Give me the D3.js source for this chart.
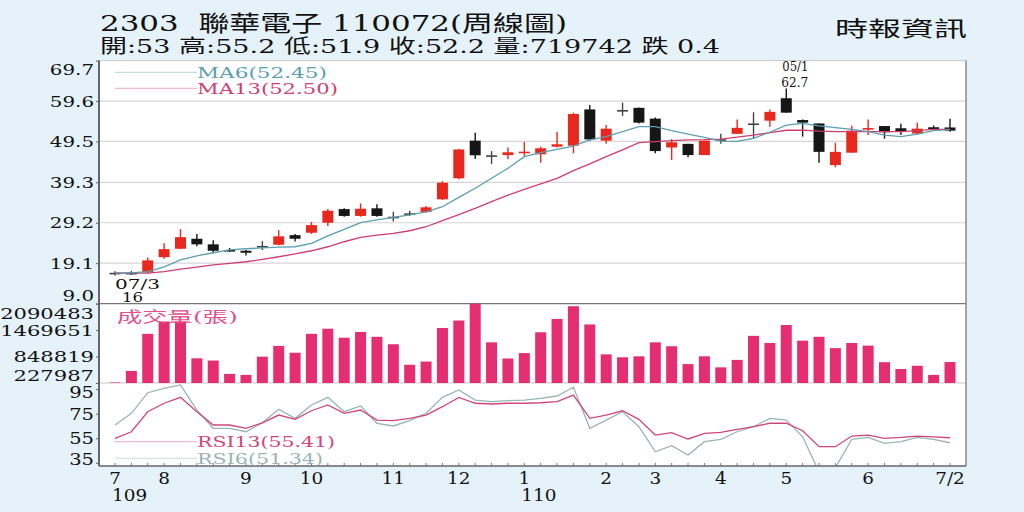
<!DOCTYPE html>
<html><head><meta charset="utf-8">
<script src="https://cdn.jsdelivr.net/npm/d3@7"></script>
<style>
html,body{margin:0;padding:0;background:#e6f2f9;}
svg{display:block;}
</style></head><body>
<svg id="c" width="1024" height="512"></svg>
<script>
// ---------- data ----------
const weeks = ["2020-07-03","2020-07-10","2020-07-17","2020-07-24","2020-07-31","2020-08-07","2020-08-14","2020-08-21","2020-08-28","2020-09-04","2020-09-11","2020-09-18","2020-09-25","2020-10-02","2020-10-09","2020-10-16","2020-10-23","2020-10-30","2020-11-06","2020-11-13","2020-11-20","2020-11-27","2020-12-04","2020-12-11","2020-12-18","2020-12-25","2021-01-01","2021-01-08","2021-01-15","2021-01-22","2021-01-29","2021-02-05","2021-02-19","2021-02-26","2021-03-05","2021-03-12","2021-03-19","2021-03-26","2021-04-02","2021-04-09","2021-04-16","2021-04-23","2021-04-30","2021-05-07","2021-05-14","2021-05-21","2021-05-28","2021-06-04","2021-06-11","2021-06-18","2021-06-25","2021-07-02"];
const opens  = [16.7,16.7,16.8,20.6,22.7,25.2,23.8,22.4,22.2,23.4,23.7,26.1,26.7,29.2,32.6,30.9,32.8,30.7,31.55,31.9,35.05,40.3,49.7,46.05,46.1,46.9,46.3,48.2,48.45,57.5,49.7,57.35,57.9,55.2,48.0,48.9,46.1,50.05,51.4,54.0,54.7,60.3,54.85,54.0,43.6,46.7,52.8,53.35,52.8,51.5,53.05,53];
const highs  = [17.1,17.1,20.5,24.1,27.6,26.4,24.8,22.9,22.4,24.6,27.3,26.4,29.4,32.6,32.8,34.0,33.8,31.95,32.2,33.4,39.6,47.7,51.7,47.1,48.0,49.4,48.2,51.9,56.7,58.6,53.6,59.2,58.0,55.5,50.1,48.9,49.7,51.4,55.0,56.8,57.5,62.7,55.0,54.0,49.2,53.4,55.0,53.35,53.9,54.2,53.5,55.2];
const lows   = [16.0,16.2,16.6,20.2,22.6,23.3,21.6,21.9,21.0,22.4,23.6,24.5,26.4,28.4,30.7,30.7,30.7,29.5,30.9,31.7,34.9,40.05,45.1,43.9,45.05,45.9,44.2,48.0,46.55,49.7,48.9,55.9,54.0,46.55,44.9,45.55,46.1,48.9,51.35,50.3,53.2,56.7,50.7,44.2,43.05,46.7,51.1,50.2,51.1,51.1,52.2,51.9];
const closes = [16.7,16.6,19.8,22.6,25.6,23.8,22.2,22.35,21.7,23.4,25.8,25.2,28.6,32.2,30.9,32.7,30.9,30.7,31.55,33.05,39.2,47.5,46.05,46.05,46.8,46.95,47.8,48.8,56.35,50.0,52.7,57.35,54.2,47.1,49.3,46.1,49.7,50.05,52.9,54.0,56.9,56.7,54.2,46.9,46.9,52.2,52.85,51.8,52.1,52.7,52.6,52.2];
const volumes = [240000,511000,1381000,1671000,1671000,807000,755000,442000,418000,846000,1098000,938000,1381000,1502000,1290000,1426000,1312000,1137000,656000,731000,1519000,1694000,2090483,1182000,803000,930000,1418000,1731000,2029000,1602000,900000,831000,854000,1182000,1090000,671000,854000,595000,770000,1334000,1167000,1588000,1221000,1312000,1046000,1167000,1105000,716000,556000,632000,418000,719742];
const ma6  = [16.7,16.7,17.0,18.2,19.9,20.9,21.7,22.4,22.7,22.9,23.1,23.2,24.05,25.9,27.55,29.2,29.9,30.55,31.15,31.9,33.2,35.55,37.8,40.3,42.8,45.7,46.7,47.55,48.35,49.9,50.7,51.95,53.2,53.2,52.2,51.35,50.5,49.6,49.5,50.3,51.8,53.6,54.0,53.4,52.95,52.5,51.95,51.1,50.7,51.35,52.2,52.45];
const ma13 = [16.6,16.6,16.6,17.0,17.6,18.1,18.65,19.05,19.45,20.05,20.7,21.4,22.2,23.2,24.45,25.55,26.1,26.55,27.2,28.2,29.7,31.2,32.8,34.45,36.1,37.55,38.9,40.3,42.2,43.9,45.7,47.4,49.2,49.45,49.7,49.9,49.95,50.1,50.6,51.1,51.7,52.3,52.35,52.1,51.95,51.95,51.95,51.95,51.95,52.2,52.5,52.5];
const rsi6  = [65.8,75.3,92.1,95.7,98.4,78.0,63.1,63.1,60.3,67.6,78.6,71.2,82.1,88.3,76.6,81.3,67.2,65.0,69.3,75.3,88.3,94.3,86.1,84.8,85.6,86.1,87.5,89.4,96.5,63.1,69.8,76.6,64.4,44.0,48.9,41.3,52.2,54.1,60.3,64.4,71.2,69.8,56.2,27.5,31.0,54.1,55.7,50.9,52.2,55.7,54.1,51.34];
const rsi13 = [54.9,60.3,76.6,83.5,88.3,76.6,65.8,65.8,63.1,67.6,73.9,70.4,77.4,82.1,75.3,78.0,69.8,69.3,71.2,73.9,80.7,88.3,83.5,82.9,83.5,83.5,83.9,84.8,90.2,71.2,73.9,77.4,70.4,57.6,59.5,54.4,59.0,59.8,62.3,64.4,67.2,67.2,61.1,48.1,48.1,56.8,57.6,54.9,55.7,56.8,56.2,55.41];
const priceTicks = [9.0,19.1,29.2,39.3,49.5,59.6,69.7];
const volTicks = [227987,848819,1469651,2090483];
const rsiTicks = [35,55,75,95];
const monthTickIdx = [0,3,8,12,17,21,25,30,33,37,41,46,51];
const monthTickLabels = ["7","8","9","10","11","12","1","2","3","4","5","6","7/2"];
const yearTickIdx = [0,25];
const yearTickLabels = ["109","110"];
const titleText = "2303  聯華電子 110072(周線圖)";
const quoteText = "開:53 高:55.2 低:51.9 收:52.2 量:719742 跌 0.4";
const sourceText = "時報資訊";
const lowMark = {idx:0, date:"07/3", value:"16"};
const highMark = {idx:41, date:"05/1", value:"62.7"};

// ---------- layout ----------
const svg = d3.select("#c");
const W=1024,H=512;
const L=99,R=966,T=60.6,PB=303.6,VB=383,B=466;
const SERIF="'DejaVu Serif','Noto Sans CJK TC',serif";
const RED="#e8281e",BLK="#161616",GRAY="#444";
const C_MA6="#5b9fb0",C_MA13="#cf3f6e",C_RSI6="#98b4b4",C_RSI13="#d0467a",C_VOL="#e52d72";

function stretch(sel,f){sel.each(function(){const w=this.getComputedTextLength();this.setAttribute("textLength",w*f);this.setAttribute("lengthAdjust","spacingAndGlyphs");});}
function fit(sel,len){sel.attr("textLength",len).attr("lengthAdjust","spacingAndGlyphs");}

svg.append("rect").attr("width",W).attr("height",H).attr("fill","#e6f2f9");
svg.append("rect").attr("x",L).attr("y",T).attr("width",R-L).attr("height",B-T).attr("fill","#fff");

const x = d3.scalePoint().domain(weeks).range([115,950]);
const yP = d3.scaleLinear().domain([9.0,69.7]).range([PB,T]);
const yV = d3.scaleLinear().domain([227987,2090483]).range([VB,PB]);
const yR = d3.scaleLinear().domain([32.4,100]).range([B,VB]);

// grid
svg.append("g").selectAll("line").data(priceTicks.slice(1,-1)).join("line")
  .attr("x1",L).attr("x2",R).attr("y1",d=>yP(d)).attr("y2",d=>yP(d))
  .attr("stroke","#d6d6d6").attr("stroke-width",1.2);
svg.append("line").attr("x1",L).attr("x2",R).attr("y1",T).attr("y2",T).attr("stroke","#c8c8c8");
svg.append("line").attr("x1",L).attr("x2",R).attr("y1",PB).attr("y2",PB).attr("stroke","#777").attr("stroke-width",1.2);
svg.append("line").attr("x1",L).attr("x2",R).attr("y1",VB).attr("y2",VB).attr("stroke","#c8c8c8");

// y axes
function styleAxis(g,f,fs){
  g.select(".domain").remove();
  g.selectAll(".tick line").attr("stroke","#666");
  g.selectAll(".tick text").attr("font-family",SERIF).attr("font-size",fs).attr("fill","#111");
  stretch(g.selectAll(".tick text"),f);
  return g.selectAll(".tick text").nodes();
}
const gP = svg.append("g").attr("transform",`translate(${L},0)`)
  .call(d3.axisLeft(yP).tickValues(priceTicks).tickFormat(d3.format(".1f")).tickSize(3).tickPadding(2));
let t = styleAxis(gP,1.28,15.5);
d3.select(t[0]).attr("y",-8.5);
d3.select(t[t.length-1]).attr("y",9);
const gV = svg.append("g").attr("transform",`translate(${L},0)`)
  .call(d3.axisLeft(yV).tickValues(volTicks).tickFormat(d3.format("d")).tickSize(3).tickPadding(2));
t = styleAxis(gV,1.36,15.5);
d3.select(t[0]).attr("y",-7);
d3.select(t[t.length-1]).attr("y",9.5);
const gR = svg.append("g").attr("transform",`translate(${L},0)`)
  .call(d3.axisLeft(yR).tickValues(rsiTicks).tickSize(3).tickPadding(2));
t = styleAxis(gR,1.15,17);
d3.select(t[0]).attr("y",-4);
d3.select(t[t.length-1]).attr("y",3);

// frame lines
svg.append("line").attr("x1",L).attr("x2",L).attr("y1",T).attr("y2",B).attr("stroke","#666").attr("stroke-width",2);
svg.append("line").attr("x1",R).attr("x2",R).attr("y1",T).attr("y2",B).attr("stroke","#888").attr("stroke-width",1.5);

// candles
const idx = d3.range(weeks.length);
const colorOf = i => closes[i]>opens[i]?RED:(closes[i]<opens[i]?BLK:GRAY);
const gc = svg.append("g");
gc.selectAll("line").data(idx).join("line")
  .attr("x1",i=>x(weeks[i])).attr("x2",i=>x(weeks[i]))
  .attr("y1",i=>yP(highs[i])).attr("y2",i=>yP(lows[i]))
  .attr("stroke",colorOf).attr("stroke-width",1.4);
gc.selectAll("rect").data(idx).join("rect")
  .attr("x",i=>x(weeks[i])-5.5).attr("width",11)
  .attr("y",i=>yP(Math.max(opens[i],closes[i])))
  .attr("height",i=>Math.max(1.6,Math.abs(yP(opens[i])-yP(closes[i]))))
  .attr("fill",colorOf);

// MA lines
const lineP = d3.line().x((d,i)=>x(weeks[i])).y(d=>yP(d));
svg.append("path").datum(ma13).attr("d",lineP).attr("fill","none").attr("stroke",C_MA13).attr("stroke-width",1.3);
svg.append("path").datum(ma6).attr("d",lineP).attr("fill","none").attr("stroke",C_MA6).attr("stroke-width",1.3);

// volume bars
svg.append("g").selectAll("rect").data(idx).join("rect")
  .attr("x",i=>x(weeks[i])-5.5).attr("width",11)
  .attr("y",i=>yV(volumes[i])).attr("height",i=>VB-yV(volumes[i]))
  .attr("fill",C_VOL);

// RSI
svg.append("clipPath").attr("id","rc").append("rect").attr("x",L).attr("y",VB).attr("width",R-L).attr("height",B-VB);
const lineR = d3.line().x((d,i)=>x(weeks[i])).y(d=>yR(d));
const gr = svg.append("g").attr("clip-path","url(#rc)");
gr.append("path").datum(rsi6).attr("d",lineR).attr("fill","none").attr("stroke",C_RSI6).attr("stroke-width",1.3);
gr.append("path").datum(rsi13).attr("d",lineR).attr("fill","none").attr("stroke",C_RSI13).attr("stroke-width",1.3);

// x axis
svg.append("line").attr("x1",L).attr("x2",R).attr("y1",B).attr("y2",B).attr("stroke","#666").attr("stroke-width",1.6);
svg.append("g").selectAll("line").data(weeks).join("line")
  .attr("x1",d=>x(d)).attr("x2",d=>x(d)).attr("y1",B).attr("y2",B-3).attr("stroke","#777");
const xl = svg.append("g").selectAll("text").data(monthTickIdx).join("text")
  .attr("x",i=>x(weeks[i])).attr("y",484).attr("text-anchor","middle")
  .attr("font-family",SERIF).attr("font-size",16).attr("fill","#111")
  .text((d,k)=>monthTickLabels[k]);
stretch(xl,1.15);
const yl = svg.append("g").selectAll("text").data(yearTickIdx).join("text")
  .attr("x",i=>x(weeks[i])-3).attr("y",501)
  .attr("font-family",SERIF).attr("font-size",16).attr("fill","#111")
  .text((d,k)=>yearTickLabels[k]);
stretch(yl,1.15);

// legends
function legend(yLine,yText,color,label,len){
  svg.append("line").attr("x1",115).attr("x2",197).attr("y1",yLine).attr("y2",yLine).attr("stroke",color).attr("stroke-opacity",0.45).attr("stroke-width",1);
  svg.append("text").attr("x",197).attr("y",yText).attr("font-family",SERIF).attr("font-size",14.5).attr("fill",color).text(label).call(fit,len);
}
legend(72.3,77.5,C_MA6,"MA6(52.45)",130);
legend(88.3,93.5,C_MA13,"MA13(52.50)",141);
legend(441.7,447,C_RSI13,"RSI13(55.41)",138);
legend(458.3,463.5,C_RSI6,"RSI6(51.34)",126);
svg.append("text").attr("x",117).attr("y",321.5).attr("font-family",SERIF).attr("font-size",14.5).attr("fill","#e2508c").text("成交量(張)").call(fit,121);

// extreme marks
const lx = x(weeks[lowMark.idx]), ly = yP(lows[lowMark.idx]);
svg.append("text").attr("x",lx).attr("y",ly+13).attr("font-family",SERIF).attr("font-size",13.5).attr("fill","#111").text(lowMark.date).call(fit,45);
svg.append("text").attr("x",lx+7).attr("y",ly+26).attr("font-family",SERIF).attr("font-size",13).attr("fill","#111").text(lowMark.value).call(fit,21);
const hx = x(weeks[highMark.idx]), hy = yP(highs[highMark.idx]);
svg.append("text").attr("x",hx-4).attr("y",hy-17.5).attr("font-family",SERIF).attr("font-size",13).attr("fill","#111").text(highMark.date).call(fit,26);
svg.append("text").attr("x",hx-5).attr("y",hy-1.5).attr("font-family",SERIF).attr("font-size",13).attr("fill","#111").text(highMark.value).call(fit,27);

// header
svg.append("text").attr("x",100).attr("y",31).attr("font-family",SERIF).attr("font-size",22).attr("fill","#111").attr("xml:space","preserve").text(titleText).call(fit,467);
svg.append("text").attr("x",100).attr("y",53).attr("font-family",SERIF).attr("font-size",19).attr("fill","#111").text(quoteText).call(fit,620);
svg.append("text").attr("x",835).attr("y",36).attr("font-family",SERIF).attr("font-size",21).attr("fill","#111").text(sourceText).call(fit,132);
</script>
</body></html>
